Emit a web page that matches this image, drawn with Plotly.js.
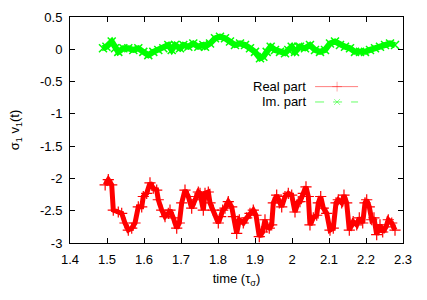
<!DOCTYPE html>
<html>
<head>
<meta charset="utf-8">
<script src="https://cdn.plot.ly/plotly-3.0.1.min.js"></script>
<style>html,body{margin:0;padding:0;background:#fff;}#chart{width:427px;height:300px;}</style>
</head>
<body>
<div id="chart"></div>
<script>
// Real part (red)
var realTime = [1.495,1.5035,1.5127,1.517,1.5305,1.5397,1.5486,1.5576,1.5668,1.5757,1.5846,1.5938,1.5981,1.6073,1.6162,1.6251,1.6343,1.6386,1.6478,1.6568,1.6657,1.6703,1.6792,1.6884,1.6954,1.7019,1.7108,1.7197,1.7289,1.7378,1.7468,1.7514,1.7603,1.7649,1.7738,1.7784,1.7873,1.8008,1.8073,1.8127,1.8189,1.8278,1.8370,1.8414,1.8505,1.8576,1.8684,1.8776,1.8865,1.8954,1.9027,1.9116,1.9208,1.9270,1.9316,1.9386,1.9451,1.9495,1.9586,1.9657,1.9722,1.9811,1.9900,1.9992,2.0081,2.0170,2.0216,2.0305,2.0378,2.0441,2.0486,2.0576,2.0668,2.0711,2.0776,2.0846,2.0938,2.1027,2.1116,2.1189,2.1251,2.1343,2.1405,2.1478,2.1549,2.1654,2.1749,2.1819,2.1911,2.1973,2.2019,2.2089,2.2154,2.2216,2.2289,2.2378,2.2451,2.2541,2.2603,2.2695,2.2784];
var realValue = [-2.10,-2.02,-2.10,-2.49,-2.52,-2.54,-2.69,-2.80,-2.77,-2.69,-2.44,-2.44,-2.28,-2.23,-2.07,-2.15,-2.18,-2.33,-2.49,-2.59,-2.54,-2.49,-2.61,-2.77,-2.69,-2.38,-2.18,-2.28,-2.46,-2.33,-2.21,-2.23,-2.49,-2.23,-2.21,-2.38,-2.49,-2.69,-2.59,-2.49,-2.46,-2.36,-2.44,-2.59,-2.85,-2.64,-2.69,-2.61,-2.54,-2.49,-2.57,-2.90,-2.83,-2.64,-2.75,-2.77,-2.72,-2.38,-2.26,-2.38,-2.44,-2.28,-2.23,-2.26,-2.52,-2.36,-2.36,-2.23,-2.13,-2.28,-2.72,-2.61,-2.57,-2.38,-2.28,-2.46,-2.54,-2.80,-2.77,-2.38,-2.33,-2.38,-2.26,-2.38,-2.80,-2.67,-2.72,-2.61,-2.69,-2.38,-2.33,-2.44,-2.64,-2.61,-2.87,-2.72,-2.83,-2.75,-2.64,-2.69,-2.80];

// Imaginary part (green)
var imTime = [1.4892,1.4984,1.5127,1.5216,1.5305,1.5441,1.5576,1.5711,1.5846,1.5981,1.6116,1.6251,1.6386,1.6522,1.6657,1.6749,1.6838,1.6973,1.7062,1.7197,1.7332,1.7468,1.7603,1.7649,1.7784,1.7919,1.8054,1.8189,1.8324,1.8459,1.8595,1.8730,1.8865,1.9000,1.9135,1.9225,1.9316,1.9424,1.9541,1.9676,1.9811,1.9900,1.9992,2.0081,2.0170,2.0216,2.0351,2.0486,2.0622,2.0757,2.0892,2.1027,2.1162,2.1297,2.1432,2.1568,2.1703,2.1838,2.1973,2.2108,2.2243,2.2378,2.2514,2.2649,2.2784];
var imValue = [0.015,0.04,0.12,0.015,-0.04,0.015,0.015,-0.01,0.015,-0.04,-0.09,-0.04,-0.01,0.015,0.066,-0.01,0.066,0.015,0.066,0.04,0.09,0.04,0.066,0.04,0.09,0.17,0.195,0.17,0.12,0.066,0.09,0.066,0.015,-0.04,-0.14,-0.115,-0.04,0.04,-0.01,-0.04,-0.06,-0.01,0.04,-0.04,0.04,0.04,0.015,0.066,-0.01,-0.04,-0.01,0.09,0.12,0.066,0.04,0.015,-0.04,-0.04,-0.04,-0.01,0.015,0.04,0.066,0.09,0.066];

var xTicks = [1.4,1.5,1.6,1.7,1.8,1.9,2,2.1,2.2,2.3];
var yTicks = [-3,-2.5,-2,-1.5,-1,-0.5,0,0.5];
var seriesNames = ['Real part','Im. part'];

var font = {family: 'Liberation Sans, Arial, sans-serif', size: 13, color: '#000'};
var redC = '#ff0000', greenC = '#00ff00';

var traces = [
  // thick underlay to mimic the dense overlapping point clouds
  {x: realTime, y: realValue, type: 'scatter', mode: 'lines', showlegend: false, hoverinfo: 'skip',
   line: {color: redC, width: 5}},
  {x: imTime, y: imValue, type: 'scatter', mode: 'lines', showlegend: false, hoverinfo: 'skip',
   line: {color: greenC, width: 6}},
  {x: realTime, y: realValue, type: 'scatter', mode: 'lines+markers', name: seriesNames[0], showlegend: false,
   line: {color: redC, width: 1},
   marker: {symbol: 'cross-thin-open', size: 8, line: {color: redC, width: 1.2}}},
  {x: imTime, y: imValue, type: 'scatter', mode: 'lines+markers', name: seriesNames[1], showlegend: false,
   line: {color: greenC, width: 1, dash: 'dash'},
   marker: {symbol: 'x-thin-open', size: 8, line: {color: greenC, width: 1.5}}},
  // legend keys (gnuplot style: text left, sample right)
  {x: [0.736, 0.802, 0.865], y: [0.692, 0.692, 0.692], xaxis: 'x2', yaxis: 'y2', type: 'scatter', mode: 'lines+markers',
   showlegend: false, hoverinfo: 'skip', line: {color: 'rgba(255,0,0,0.5)', width: 1},
   marker: {symbol: 'cross-thin-open', size: [0, 7, 0], line: {color: redC, width: 1}}},
  {x: [0.736, 0.802, 0.865], y: [0.624, 0.624, 0.624], xaxis: 'x2', yaxis: 'y2', type: 'scatter', mode: 'lines+markers',
   showlegend: false, hoverinfo: 'skip', line: {color: 'rgba(0,255,0,0.6)', width: 1, dash: 'dash'},
   marker: {symbol: 'x-thin-open', size: [0, 6, 0], line: {color: greenC, width: 1}}}
];

var axisCommon = {showline: true, linecolor: '#000', linewidth: 1, mirror: 'ticks', ticks: 'inside',
  ticklen: 5, tickcolor: '#000', tickwidth: 1, showgrid: false, zeroline: false, tickfont: font};

var layout = {
  width: 427, height: 300,
  margin: {l: 70, r: 24, t: 17, b: 57},
  paper_bgcolor: '#fff', plot_bgcolor: '#fff',
  font: font,
  showlegend: false,
  xaxis: Object.assign({}, axisCommon, {range: [1.4, 2.3], tickvals: xTicks, ticktext: xTicks.map(String),
    ticklabelstandoff: 4,
    title: {text: 'time (τ<sub>σ</sub>)', font: font, standoff: 8}}),
  yaxis: Object.assign({}, axisCommon, {range: [-3, 0.5], tickvals: yTicks, ticktext: yTicks.map(String),
    ticklabelstandoff: 4,
    title: {text: 'σ<sub>1</sub> v<sub>1</sub>(t)', font: font, standoff: 17}}),
  xaxis2: {overlaying: 'x', range: [0, 1], visible: false, fixedrange: true},
  yaxis2: {overlaying: 'y', range: [0, 1], visible: false, fixedrange: true},
  annotations: [
    {xref: 'paper', yref: 'paper', x: 0.714, y: 0.692, xanchor: 'right', yanchor: 'middle', text: seriesNames[0], showarrow: false, font: font},
    {xref: 'paper', yref: 'paper', x: 0.714, y: 0.624, xanchor: 'right', yanchor: 'middle', text: seriesNames[1], showarrow: false, font: font}
  ]
};

Plotly.newPlot('chart', traces, layout, {displayModeBar: false, staticPlot: true});
</script>
</body>
</html>
